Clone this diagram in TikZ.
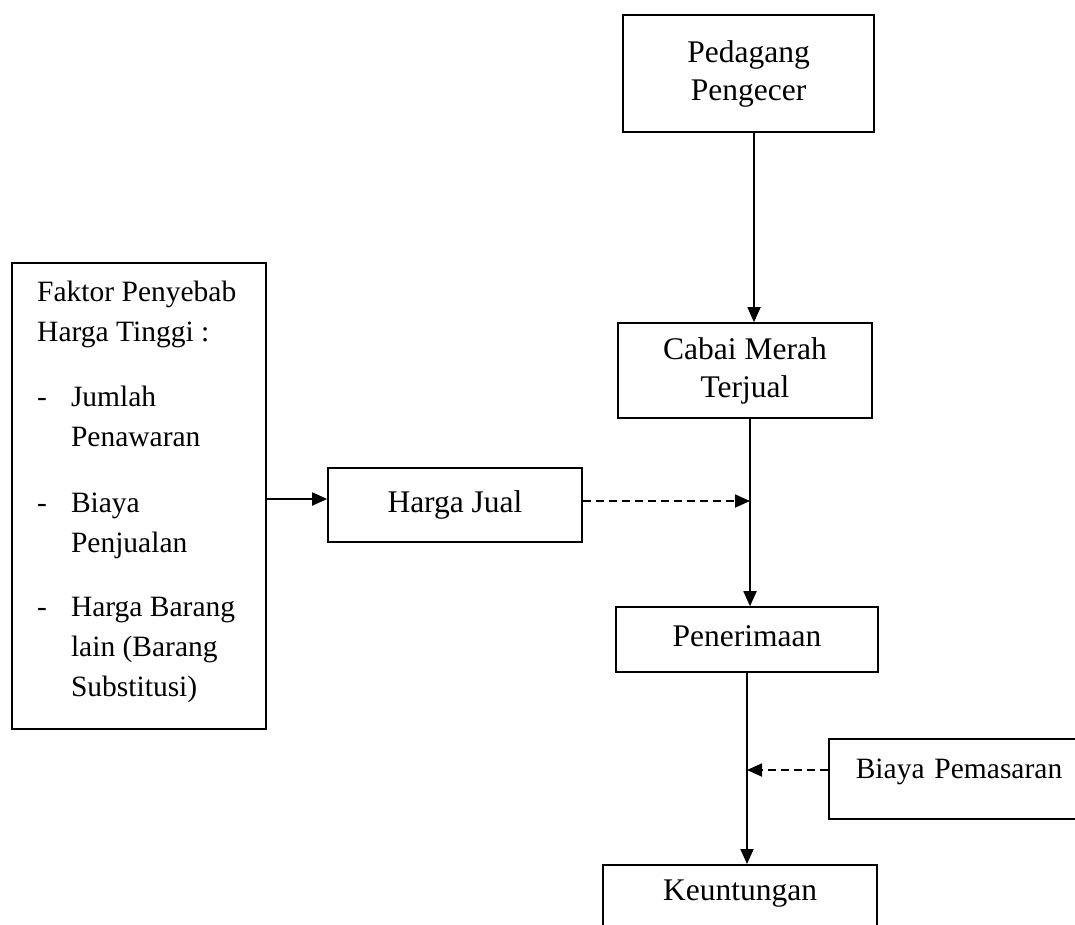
\documentclass[tikz,border=0pt]{standalone}
\usepackage{fontspec}
\setmainfont{Liberation Serif}
\usetikzlibrary{arrows.meta,calc}
\begin{document}
\begin{tikzpicture}[x=1pt,y=-1pt,
  box/.style={draw, line width=1.6pt, inner sep=0pt, align=center, font=\fontsize{31.5}{38}\selectfont},
  conn/.style={line width=1.8pt, -{Triangle[length=15pt,width=13pt]}},
  dconn/.style={conn, dash pattern=on 8pt off 5pt},
]
\fill[white] (0,0) rectangle (1075,924);
\useasboundingbox (0,0) rectangle (1075,924);

\node[box, minimum width=251pt, minimum height=117pt] (ped) at (748.5,73.5) {Pedagang\\Pengecer};
\node[box, minimum width=254pt, minimum height=95pt] (cab) at (745,370.5) {Cabai Merah\\Terjual};
\node[box, minimum width=254pt, minimum height=466pt] (fak) at (139,496) {};
\node[anchor=north west, inner sep=0pt, font=\fontsize{29.5}{40}\selectfont, align=left] (faktxt) at (37,273) {%
\begin{tabular}{@{}l@{\hspace{24pt}}l@{}}
\multicolumn{2}{@{}l@{}}{Faktor Penyebab}\\
\multicolumn{2}{@{}l@{}}{Harga Tinggi :}\\[25pt]
- & Jumlah\\
  & Penawaran\\[26pt]
- & Biaya\\
  & Penjualan\\[24pt]
- & Harga Barang\\
  & lain (Barang\\
  & Substitusi)
\end{tabular}};
\node[box, minimum width=254pt, minimum height=74pt, text height=22pt, text depth=8pt] (hj) at (455,505) {Harga Jual};
\node[box, minimum width=262pt, minimum height=65pt, text height=22pt, text depth=8pt] (pen) at (747,639.5) {Penerimaan};
\node[box, anchor=north west, minimum width=272pt, minimum height=80pt, text width=218pt, align=left, inner xsep=27pt, font=\fontsize{29.5}{38}\selectfont, text height=12pt, text depth=12pt] (bp) at (828,738) {Biaya Pemasaran};
\node[box, anchor=north, minimum width=274pt, minimum height=80pt, text height=10pt, text depth=18pt] (keu) at (740,864) {Keuntungan};

\coordinate (v1) at (754,0);
\coordinate (v2) at (750,0);
\coordinate (v3) at (747,0);
\coordinate (hjy) at (0,501);
\coordinate (bpy) at (0,770);
\coordinate (fky) at (0,499);

\draw[conn] (ped.south -| v1) -- (cab.north -| v1);
\draw[conn] (cab.south -| v2) -- (pen.north -| v2);
\draw[conn] (pen.south -| v3) -- (keu.north -| v3);
\draw[conn] (fak.east |- fky) -- (hj.west |- fky);
\draw[dconn] (hj.east |- hjy) -- (v2 |- hjy);
\draw[dconn] (bp.west |- bpy) -- (v3 |- bpy);
\end{tikzpicture}
\end{document}
